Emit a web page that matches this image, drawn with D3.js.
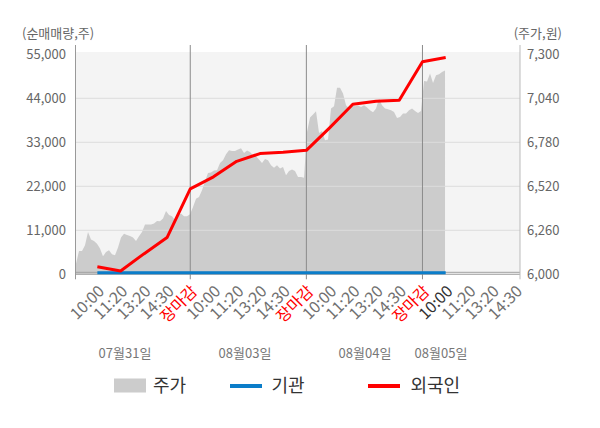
<!DOCTYPE html>
<html><head><meta charset="utf-8">
<script src="https://cdn.jsdelivr.net/npm/d3@7"></script>
<style>
body{margin:0;background:#fff;}
svg{display:block;font-family:"Noto Sans CJK KR","Noto Sans",sans-serif;}
</style>
</head><body>
<svg id="c" width="600" height="428"></svg>
<script>
// ---------- data ----------
const tickLabels = ["10:00","11:20","13:20","14:30","장마감",
                    "10:00","11:20","13:20","14:30","장마감",
                    "10:00","11:20","13:20","14:30","장마감",
                    "10:00","11:20","13:20","14:30"];
const dateLabels = ["07월31일","08월03일","08월04일","08월05일"];
const leftTicks = [0,11000,22000,33000,44000,55000];
const rightTicks = [6000,6260,6520,6780,7040,7300];
// cumulative net buying at each labelled slot (index into tickLabels)
const foreign = [1875,825,5100,9175,21375,24375,28250,30175,30500,31000,36625,42500,43250,43500,53125,54175];
const institution = [400,400,400,400,400,400,400,400,400,400,400,400,400,400,400,400];
// intraday price, sampled every priceStep slots starting at priceStart
const priceStart = -0.92, priceStep = 0.1292;
const price = [
 6063,6138,6138,6171,6250,6205,6197,6181,6152,6106,6132,6142,6118,6112,6158,6217,6240,6232,6226,6217,
 6197,6225,6250,6295,6295,6295,6300,6315,6313,6329,6374,6350,6343,6319,6349,6359,6343,6343,6355,
 6398,6447,6457,6496,6550,6599,6601,6613,6615,6658,6674,6709,6733,6729,6729,6737,6745,6717,6731,6723,
 6703,6697,6678,6658,6681,6674,6644,6630,6644,6625,6634,6585,6610,6619,6610,6575,6575,6571,
 6841,6926,6945,6963,6835,6847,6792,6796,6979,6993,7103,7103,7068,6999,6979,6999,6993,6997,6989,6999,
 6985,6969,6957,6979,7038,6999,6979,6975,6969,6959,6924,6929,6950,6950,6969,6979,6965,6953,6965,
 7142,7140,7186,7130,7176,7182,7195,7205
];

// ---------- layout ----------
const L = 76, R = 520, T = 54.3, B = 274.3;
const svg = d3.select("#c");
const x = d3.scaleLinear().domain([-0.92, 18.2]).range([L, R]);
const yL = d3.scaleLinear().domain([0, 55000]).range([B, T]);
const yR = d3.scaleLinear().domain([6000, 7300]).range([B, T]);
const dayEnds = tickLabels.map((t,i)=>t==="장마감"?i:-1).filter(i=>i>=0);

// background
svg.append("rect").attr("x", L).attr("y", 52).attr("width", R-L).attr("height", B-52).attr("fill", "#f4f4f4");

// price area
const priceData = price.map((p,k)=>({u: priceStart + k*priceStep, p}));
svg.append("path").datum(priceData)
  .attr("fill", "#cccccc")
  .attr("d", d3.area().x(d=>x(d.u)).y0(yR(6000)).y1(d=>yR(d.p)));

// horizontal grid
svg.append("g").selectAll("line").data(leftTicks.filter(v=>v>0 && v<55000)).join("line")
  .attr("x1", L).attr("x2", R).attr("y1", d=>yL(d)).attr("y2", d=>yL(d))
  .attr("stroke", "#dddddd").attr("stroke-width", 1);
// zero reference line
svg.append("line").attr("x1", L).attr("x2", R).attr("y1", B-2).attr("y2", B-2)
  .attr("stroke", "#a0a0a0").attr("stroke-width", 1);
// x axis baseline
svg.append("line").attr("x1", L).attr("x2", R).attr("y1", B).attr("y2", B)
  .attr("stroke", "#a0a0a0").attr("stroke-width", 1);

// left / right axis lines
svg.append("line").attr("x1", L-0.5).attr("x2", L-0.5).attr("y1", 45).attr("y2", B+5).attr("stroke", "#999").attr("stroke-width", 1);
svg.append("line").attr("x1", R).attr("x2", R).attr("y1", 45).attr("y2", B+5).attr("stroke", "#bbb").attr("stroke-width", 1);
// day separators
svg.append("g").selectAll("line").data(dayEnds).join("line")
  .attr("x1", d=>x(d)).attr("x2", d=>x(d)).attr("y1", 45).attr("y2", B+5)
  .attr("stroke", "#8a8a8a").attr("stroke-width", 1);

// institution line
const idx = d3.range(foreign.length);
svg.append("path").datum(idx)
  .attr("fill","none").attr("stroke","#0b7dc9").attr("stroke-width",3)
  .attr("d", d3.line().x(i=>x(i)).y(i=>yL(institution[i])));
// foreign line
svg.append("path").datum(idx)
  .attr("fill","none").attr("stroke","#ff0000").attr("stroke-width",3).attr("stroke-linejoin","round")
  .attr("d", d3.line().x(i=>x(i)).y(i=>yL(foreign[i])));

// y axis labels
const fmt = d3.format(",");
svg.append("g").selectAll("text").data(leftTicks).join("text")
  .attr("x", 66).attr("y", d=>yL(d)).attr("dy","0.35em").attr("text-anchor","end")
  .attr("font-size", 13).attr("fill", "#666").text(d=>fmt(d));
svg.append("g").selectAll("text").data(rightTicks).join("text")
  .attr("x", 527).attr("y", d=>yR(d)).attr("dy","0.35em").attr("text-anchor","start")
  .attr("font-size", 13).attr("fill", "#666").text(d=>fmt(d));
svg.append("text").attr("x", 22).attr("y", 33).attr("dy","0.35em").attr("font-size",13).attr("fill","#666").text("(순매매량,주)");
svg.append("text").attr("x", 562).attr("y", 33).attr("dy","0.35em").attr("text-anchor","end").attr("font-size",13).attr("fill","#666").text("(주가,원)");

// x tick labels
svg.append("g").selectAll("text").data(tickLabels).join("text")
  .attr("transform", (d,i)=>`translate(${x(i)+4},${B+14}) rotate(-45)`)
  .attr("text-anchor","end").attr("dy","0.35em").attr("font-size",16)
  .attr("fill", (d,i)=> d==="장마감" ? "#ff0000" : (i===15 ? "#333" : "#707070"))
  .text(d=>d);

// date labels
const dateX = [125, 245, 365, 441];
svg.append("g").selectAll("text").data(dateLabels).join("text")
  .attr("x", (d,i)=>dateX[i]).attr("y", 353).attr("dy","0.35em").attr("text-anchor","middle")
  .attr("font-size",13).attr("fill","#777").text(d=>d);

// legend
const lg = svg.append("g");
lg.append("rect").attr("x",114).attr("y",378.5).attr("width",32).attr("height",14).attr("fill","#cccccc");
lg.append("text").attr("x",153).attr("y",385.5).attr("dy","0.35em").attr("font-size",18).attr("fill","#333").text("주가");
lg.append("line").attr("x1",230).attr("x2",262).attr("y1",386).attr("y2",386).attr("stroke","#0b7dc9").attr("stroke-width",4);
lg.append("text").attr("x",271.5).attr("y",385.5).attr("dy","0.35em").attr("font-size",18).attr("fill","#333").text("기관");
lg.append("line").attr("x1",368).attr("x2",400).attr("y1",386).attr("y2",386).attr("stroke","#ff0000").attr("stroke-width",4);
lg.append("text").attr("x",410.5).attr("y",385.5).attr("dy","0.35em").attr("font-size",18).attr("fill","#333").text("외국인");
</script>
</body></html>
